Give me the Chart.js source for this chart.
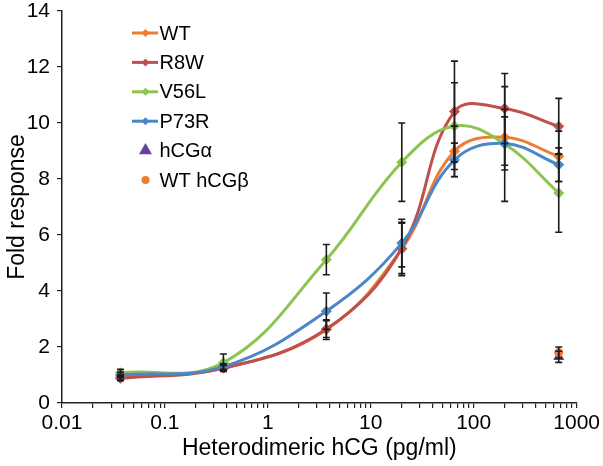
<!DOCTYPE html>
<html>
<head>
<meta charset="utf-8">
<script src="https://cdn.jsdelivr.net/npm/chart.js@4"></script>
<style>
  html, body { margin: 0; padding: 0; background: #fff; }
  #wrap { width: 603px; height: 466px; }
</style>
</head>
<body>
<div id="wrap"><canvas id="doseChart" width="603" height="466"></canvas></div>
<script>
// concentrations (pg/ml)
const concList = [0.037, 0.37, 3.7, 20, 65, 200, 670];

const wtValues = [0.92, 1.25, 2.62, 5.5, 8.99, 9.49, 8.81];
const wtErrors = [0.1, 0.1, 0.35, 0.95, 0.9, 1.0, 0.9];
const r8wValues = [0.88, 1.24, 2.64, 5.52, 10.41, 10.52, 9.88];
const r8wErrors = [0.08, 0.1, 0.3, 0.9, 1.8, 1.25, 1.0];
const v56lValues = [1.08, 1.44, 5.12, 8.6, 9.89, 9.25, 7.5];
const v56lErrors = [0.12, 0.31, 0.54, 1.4, 1.55, 2.05, 1.4];
const p73rValues = [1.0, 1.3, 3.28, 5.71, 8.68, 9.27, 8.51];
const p73rErrors = [0.1, 0.1, 0.65, 0.85, 0.6, 0.95, 0.6];

// single controls at the top dose
const alphaConc = [670];
const alphaValues = [1.65];
const alphaErrors = [0.2];
const betaConc = [670];
const betaValues = [1.8];
const betaErrors = [0.2];

const xTickLabels = [0.01, 0.1, 1, 10, 100, 1000];
const yTickLabels = [0, 2, 4, 6, 8, 10, 12, 14];

const FONT_FAMILY = "'Liberation Sans', Arial, sans-serif";

/**
 * Turn x/y arrays into {x, y, err} points.
 */
function toPoints(xList, yList, errList) {
  return xList.map((x, i) => ({ x: x, y: yList[i], err: errList[i] }));
}

function lineSeries(label, values, errors, color, order) {
  return {
    label: label,
    data: toPoints(concList, values, errors),
    borderColor: color,
    backgroundColor: color,
    borderWidth: 3,
    pointStyle: "rectRot",
    pointRadius: 5,
    pointBorderWidth: 1,
    tension: 0.4,
    order: order,
    legendShape: "line"
  };
}

// minor + major tick values for the log axis
const X_TICK_VALUES = [];
xTickLabels.forEach((decade, i) => {
  if (i === xTickLabels.length - 1) {
    X_TICK_VALUES.push(decade);
    return;
  }
  for (let s = 1; s <= 9; s++) {
    X_TICK_VALUES.push(+(decade * s).toPrecision(3));
  }
});

/**
 * Draw the error bars of every dataset through the scales.
 */
const errorBarPlugin = {
  id: "errorBars",
  afterDatasetsDraw(chart) {
    const ctx = chart.ctx;
    const xScale = chart.scales.x;
    const yScale = chart.scales.y;
    ctx.save();
    ctx.strokeStyle = "#1c1c1c";
    ctx.lineWidth = 1.6;
    chart.data.datasets.forEach((ds) => {
      ds.data.forEach((pt) => {
        const px = xScale.getPixelForValue(pt.x);
        const top = yScale.getPixelForValue(pt.y + pt.err);
        const bot = yScale.getPixelForValue(pt.y - pt.err);
        ctx.beginPath();
        ctx.moveTo(px, top);
        ctx.lineTo(px, bot);
        ctx.moveTo(px - 3.5, top);
        ctx.lineTo(px + 3.5, top);
        ctx.moveTo(px - 3.5, bot);
        ctx.lineTo(px + 3.5, bot);
        ctx.stroke();
      });
    });
    ctx.restore();
  }
};

/**
 * Legend drawn inside the plot area (line + marker samples).
 */
const insideLegendPlugin = {
  id: "insideLegend",
  afterDraw(chart) {
    const ctx = chart.ctx;
    const startY = 33;
    const rowGap = 29.4;
    ctx.save();
    ctx.font = "20px " + FONT_FAMILY;
    ctx.textBaseline = "middle";
    ctx.textAlign = "left";
    chart.data.datasets.forEach((ds, i) => {
      const y = startY + i * rowGap;
      let markRadius = 4;
      if (ds.legendShape === "line") {
        ctx.strokeStyle = ds.borderColor;
        ctx.lineWidth = 3;
        ctx.beginPath();
        ctx.moveTo(132, y);
        ctx.lineTo(158, y);
        ctx.stroke();
      } else if (ds.pointStyle === "triangle") {
        markRadius = 7.5;
      }
      ctx.fillStyle = ds.backgroundColor;
      Chart.helpers.drawPoint(ctx, {
        pointStyle: ds.pointStyle,
        radius: markRadius,
        borderWidth: 0
      }, 145.5, y);
      ctx.fillStyle = "#000";
      ctx.fillText(ds.label, 159.5, y + 1);
    });
    ctx.restore();
  }
};

const CTX = document.getElementById("doseChart").getContext("2d");

new Chart(CTX, {
  type: "line",
  data: {
    datasets: [
      lineSeries("WT", wtValues, wtErrors, "#ED7D31", 5),
      lineSeries("R8W", r8wValues, r8wErrors, "#C0504D", 4),
      lineSeries("V56L", v56lValues, v56lErrors, "#8DC450", 3),
      lineSeries("P73R", p73rValues, p73rErrors, "#4A86C8", 2),
      {
        label: "hCGα",
        data: toPoints(alphaConc, alphaValues, alphaErrors),
        showLine: false,
        borderColor: "#6B3FA0",
        backgroundColor: "#6B3FA0",
        pointStyle: "triangle",
        pointRadius: 6.5,
        pointBorderWidth: 0,
        order: 1
      },
      {
        label: "WT hCGβ",
        data: toPoints(betaConc, betaValues, betaErrors),
        showLine: false,
        borderColor: "#ED7D31",
        backgroundColor: "#ED7D31",
        pointStyle: "circle",
        pointRadius: 4.5,
        pointBorderWidth: 0,
        order: 0
      }
    ]
  },
  options: {
    responsive: false,
    animation: false,
    devicePixelRatio: 1,
    layout: { padding: { top: 11, right: 23, left: 0, bottom: 0 } },
    plugins: {
      legend: { display: false },
      tooltip: { enabled: false }
    },
    scales: {
      x: {
        type: "logarithmic",
        min: 0.01,
        max: 1000,
        afterBuildTicks: (scale) => {
          scale.ticks = X_TICK_VALUES.map((v) => ({ value: v }));
        },
        afterFit: (scale) => { scale.height = 63; },
        grid: { display: true, drawOnChartArea: false, tickLength: 5, color: "#222", lineWidth: 1.2 },
        border: { display: true, color: "#222", width: 1.5 },
        ticks: {
          autoSkip: false,
          maxRotation: 0,
          padding: 3,
          color: "#000",
          font: { family: FONT_FAMILY, size: 21 },
          callback: (v) => (xTickLabels.includes(v) ? String(v) : "")
        },
        title: {
          display: true,
          text: "Heterodimeric hCG (pg/ml)",
          color: "#000",
          font: { family: FONT_FAMILY, size: 23, lineHeight: 1.2 },
          padding: { top: 0, bottom: 4 }
        }
      },
      y: {
        min: 0,
        max: 14,
        afterBuildTicks: (scale) => {
          scale.ticks = yTickLabels.map((v) => ({ value: v }));
        },
        afterFit: (scale) => {
          scale.width = 62;
          scale.paddingTop = 0;
        },
        grid: { display: true, drawOnChartArea: false, tickLength: 5, color: "#222", lineWidth: 1.2 },
        border: { display: true, color: "#222", width: 1.5 },
        ticks: {
          padding: 7,
          color: "#000",
          font: { family: FONT_FAMILY, size: 21 }
        },
        title: {
          display: true,
          text: "Fold response",
          color: "#000",
          font: { family: FONT_FAMILY, size: 23, lineHeight: 1.2 },
          padding: { top: 4, bottom: 0 }
        }
      }
    }
  },
  plugins: [errorBarPlugin, insideLegendPlugin]
});
</script>
</body>
</html>
